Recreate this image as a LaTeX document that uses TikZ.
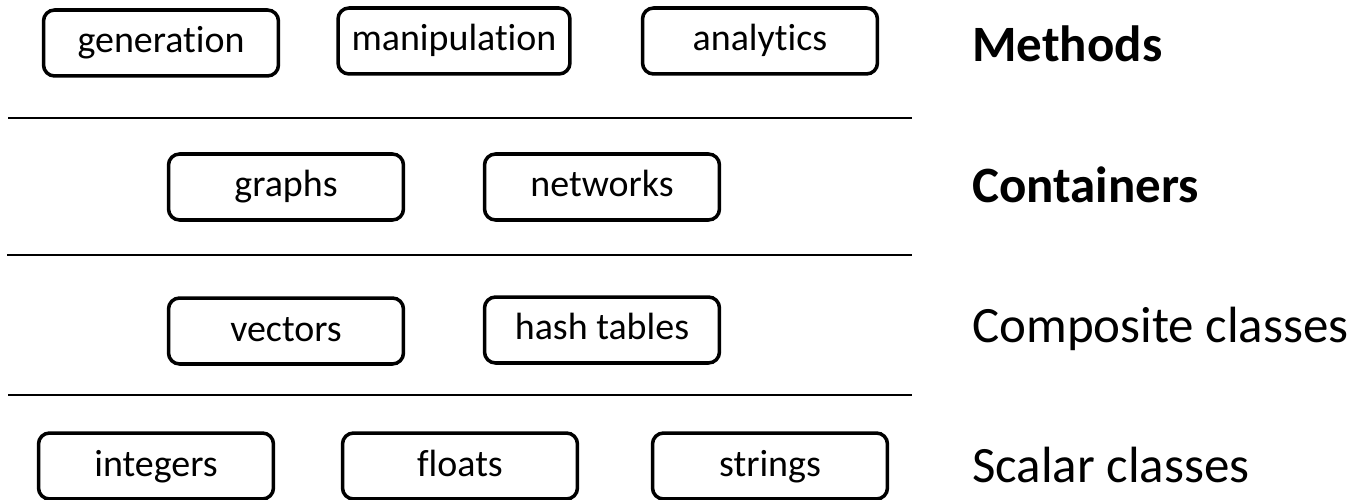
\documentclass[tikz,border=0pt]{standalone}
\usepackage{fontspec}
\setmainfont[RawFeature=-liga]{Carlito}
\usetikzlibrary{shapes,positioning,calc}

\begin{document}
\begin{tikzpicture}[x=0.02cm, y=-0.02cm]
  \tikzstyle{item}=[rectangle, draw, line width=2pt, rounded corners=0.22cm, minimum width=4.7cm, minimum height=1.32cm, inner sep=0pt, text height=0.48cm, text depth=0.08cm, font=\fontsize{21.6}{26}\selectfont]
  \tikzstyle{layer}=[anchor=west, inner sep=0pt, text height=0.68cm, text depth=0.16cm, font=\fontsize{29}{34}\selectfont]
  \tikzstyle{sep}=[line width=1.7pt]

  \useasboundingbox (0,0) rectangle (1370,500);

  % Methods
  \node[item] (gen) at (161,43) {generation};
  \node[item, minimum width=4.64cm] (man) at (454,41) {manipulation};
  \node[item] (ana) at (760,41) {analytics};
  \node[layer, font=\fontsize{29}{34}\selectfont\bfseries] (methods) at (972,49) {Methods};

  \draw[sep] (8,118) -- (912,118);

  % Containers
  \node[item] (graphs) at (286,187) {graphs};
  \node[item] (networks) at (602,187) {networks};
  \node[layer, font=\fontsize{29}{34}\selectfont\bfseries] (containers) at (972,190) {Containers};

  \draw[sep] (7,255) -- (912,255);

  % Composite classes
  \node[item] (vectors) at (286,331) {vectors};
  \node[item] (hash) at (602,330) {hash tables};
  \node[layer] (composite) at (972,330) {Composite classes};

  \draw[sep] (8,395) -- (912,395);

  % Scalar classes
  \node[item] (ints) at (156,466) {integers};
  \node[item] (floats) at (460,466) {floats};
  \node[item] (strings) at (770,466) {strings};
  \node[layer] (scalar) at (972,470) {Scalar classes};
\end{tikzpicture}
\end{document}
